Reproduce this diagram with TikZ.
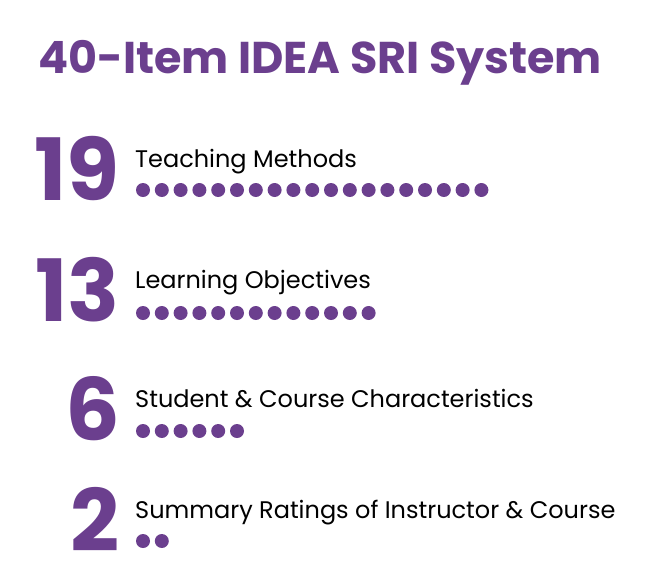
\documentclass[tikz,border=0pt]{standalone}
\usepackage{fontspec}
\setmainfont{Poppins}
\definecolor{ideapurple}{HTML}{6B3F8E}
\tikzset{
  count/.style={anchor=base east,font=\fontsize{86}{86}\selectfont\bfseries,text=ideapurple,inner sep=0pt},
  caption/.style={anchor=base west,font=\fontsize{24}{24}\selectfont,inner sep=0pt},
  dot/.style={circle,fill=ideapurple,inner sep=0pt,minimum size=14pt}
}
\begin{document}
\begin{tikzpicture}[x=1pt,y=-1pt]
  \useasboundingbox (0,0) rectangle (659,582);
  \node[anchor=base west,inner sep=0pt,font=\fontsize{44.5}{44.5}\selectfont\bfseries,text=ideapurple] (title) at (38,73) {40-Item IDEA SRI System};
  % rows: number, label, dot count
  \foreach \n/\lab/\yb/\yd [count=\i] in {19/Teaching Methods/167/190,
      13/Learning Objectives/288/313,
      6/Student \& Course Characteristics/407/431,
      2/Summary Ratings of Instructor \& Course/518/541}{
    \node[count] (num\i) at (120,\yb+33) {\n};
    \node[caption] (lab\i) at (135,\yb) {\lab};
    \foreach \k in {1,...,\n}
      \node[dot] (dot\i-\k) at (143+18.8*\k-18.8,\yd) {};
  }
\end{tikzpicture}
\end{document}
